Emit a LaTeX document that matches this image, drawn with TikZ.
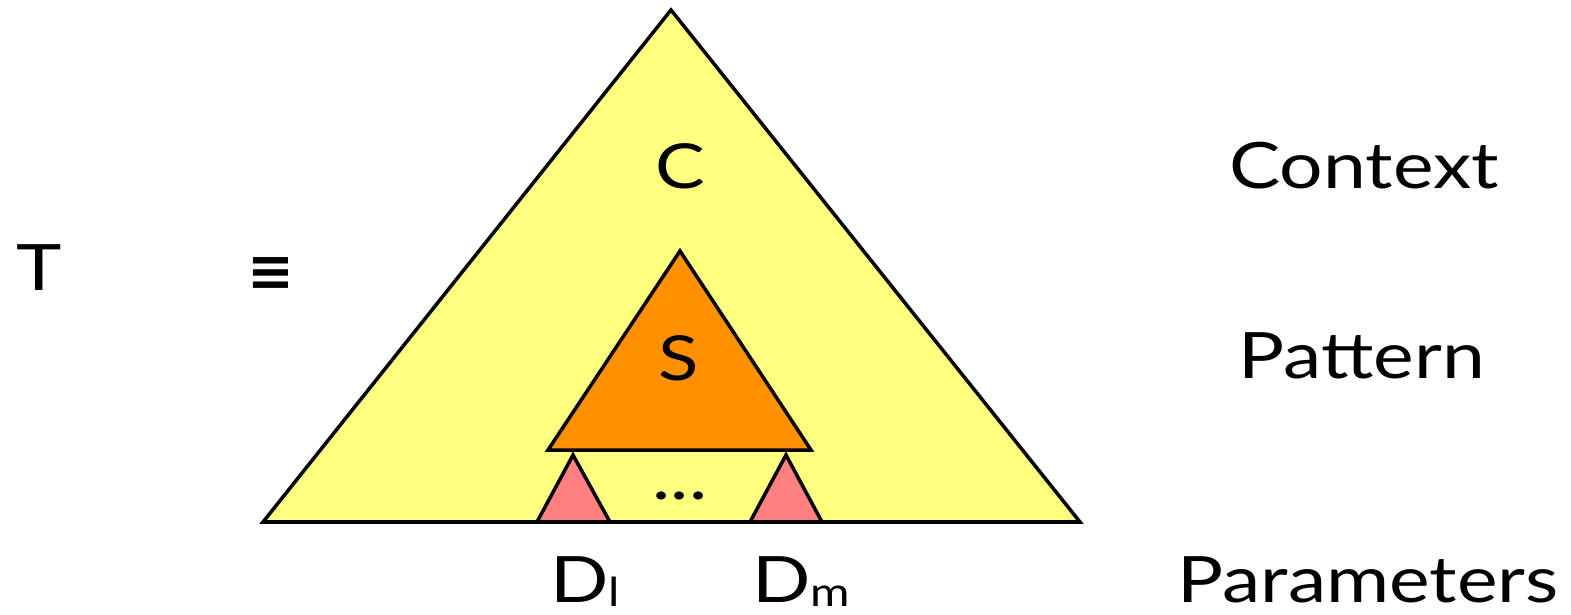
\documentclass[tikz,border=0pt]{standalone}
\usepackage{fontspec}
\setmainfont[FakeStretch=1.2]{Lato}
\newfontfamily\symfont{DejaVu Sans}
\definecolor{ctxyellow}{RGB}{255,255,128}
\definecolor{patorange}{RGB}{255,145,0}
\definecolor{parpink}{RGB}{255,128,128}
\usetikzlibrary{positioning,calc}

\begin{document}
\begin{tikzpicture}[x=1pt, y=1pt,
    tri/.style={draw=black, line width=3.5pt, line join=miter},
    big/.style={font=\fontsize{64}{64}\selectfont, inner sep=0pt},
    inner/.style={font=\fontsize{62}{62}\selectfont, inner sep=0pt}]

\useasboundingbox (0,0) rectangle (1571,614);

% Corners
\coordinate (ctop) at (671,604);
\coordinate (cleft) at (263,92);
\coordinate (cright) at (1080,92);
\coordinate (stop) at (680,363);
\coordinate (sleft) at (548,164);
\coordinate (sright) at (811,164);

% Triangles
\draw[tri, fill=ctxyellow] (cleft) -- (ctop) -- (cright) -- cycle;
\draw[tri, fill=patorange] (sleft) -- (stop) -- (sright) -- cycle;
\draw[tri, fill=parpink] (537,92) -- (573,159) -- (610,92) -- cycle;
\draw[tri, fill=parpink] (750,92) -- (786,159) -- (822,92) -- cycle;
\draw[line width=3.5pt] (cleft) -- (cright);

% Labels inside
\node[inner] (c) at (680,448) {C};
\node[inner] (s) at (679,256) {S};
\node[font=\fontsize{64}{64}\selectfont, inner sep=0pt, anchor=base] (dots) at (680,115) {...};

% Labels left
\node[big] (t) at (39,346) {T};
\node[font=\symfont\bfseries\fontsize{56}{56}\selectfont, inner sep=0pt] (eq) at (271,340) {≡};

% Labels below
\node[big, anchor=base west] (dl) at (550,12) {D\raisebox{-4pt}{\fontsize{40}{40}\selectfont l}};
\node[big, anchor=base west] (dm) at (752,12) {D\raisebox{-4pt}{\fontsize{40}{40}\selectfont m}};

% Labels right
\node[big] (ctx) at (1364,448) {Context};
\node[big] (pat) at (1362,258) {Pattern};
\node[big, anchor=base] (par) at (1368,12) {Parameters};
\end{tikzpicture}
\end{document}
